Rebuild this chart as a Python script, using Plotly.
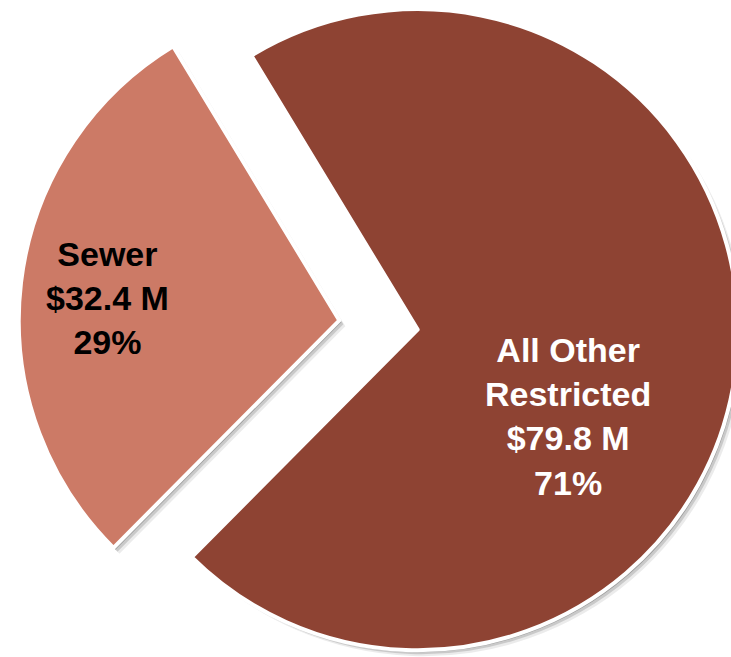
import plotly.graph_objects as go

labels = ["Sewer", "All Other<br>Restricted"]
values = [32.4, 79.8]
slice_colors = ["#CC7A66", "#8E4333"]
text_colors = ["black", "white"]

FIG_W, FIG_H = 745, 726
BOX = 720          # square box the pie is fitted into (px)
LEFT = 18.5        # left edge of that box (px)
SHIFT_UP = 35      # pie is bigger than the window, so the page is shifted up
PULL = 0.123
ROTATION = 224.8
LABEL_XY = [(107, 298), (568, 416)]   # label centres in window px


def domain(left, top):
    return dict(
        x=[left / FIG_W, (left + BOX) / FIG_W],
        y=[1 - (top + BOX) / FIG_H, 1 - top / FIG_H],
    )


fig = go.Figure()

# soft drop shadow: a few offset copies of the pie in translucent grey
for d, alpha in [(6, 0.08), (4, 0.14), (2, 0.22)]:
    fig.add_trace(go.Pie(
        labels=labels,
        values=values,
        sort=False,
        direction="clockwise",
        rotation=ROTATION,
        pull=PULL,
        domain=domain(LEFT + d, d),
        marker=dict(colors=[f"rgba(0,0,0,{alpha})"] * len(values), line=dict(width=0)),
        textinfo="none",
        hoverinfo="skip",
    ))

fig.add_trace(go.Pie(
    labels=labels,
    values=values,
    sort=False,
    direction="clockwise",
    rotation=ROTATION,
    pull=PULL,
    domain=domain(LEFT, 0),
    marker=dict(colors=slice_colors, line=dict(color="white", width=4)),
    textinfo="none",
    hovertemplate="%{label}: $%{value} M (%{percent})<extra></extra>",
))

total = sum(values)
for lab, v, col, (px, py) in zip(labels, values, text_colors, LABEL_XY):
    fig.add_annotation(
        x=px / FIG_W,
        y=1 - (py + SHIFT_UP) / FIG_H,
        xref="paper",
        yref="paper",
        xanchor="center",
        yanchor="middle",
        showarrow=False,
        text=f"<b>{lab}<br>${v} M<br>{round(100 * v / total)}%</b>",
        font=dict(family="Liberation Sans, Arial, sans-serif", size=34, color=col),
    )

fig.update_layout(
    width=FIG_W,
    height=FIG_H,
    margin=dict(l=0, r=0, t=0, b=0),
    showlegend=False,
    paper_bgcolor="white",
)

page_js = (
    "document.documentElement.style.overflow='hidden';"
    "document.body.style.margin='0';"
    "document.body.style.overflow='hidden';"
    "document.getElementById('{plot_id}').style.marginTop='-%dpx';" % SHIFT_UP
)
fig.write_html("out.html", post_script=page_js)
